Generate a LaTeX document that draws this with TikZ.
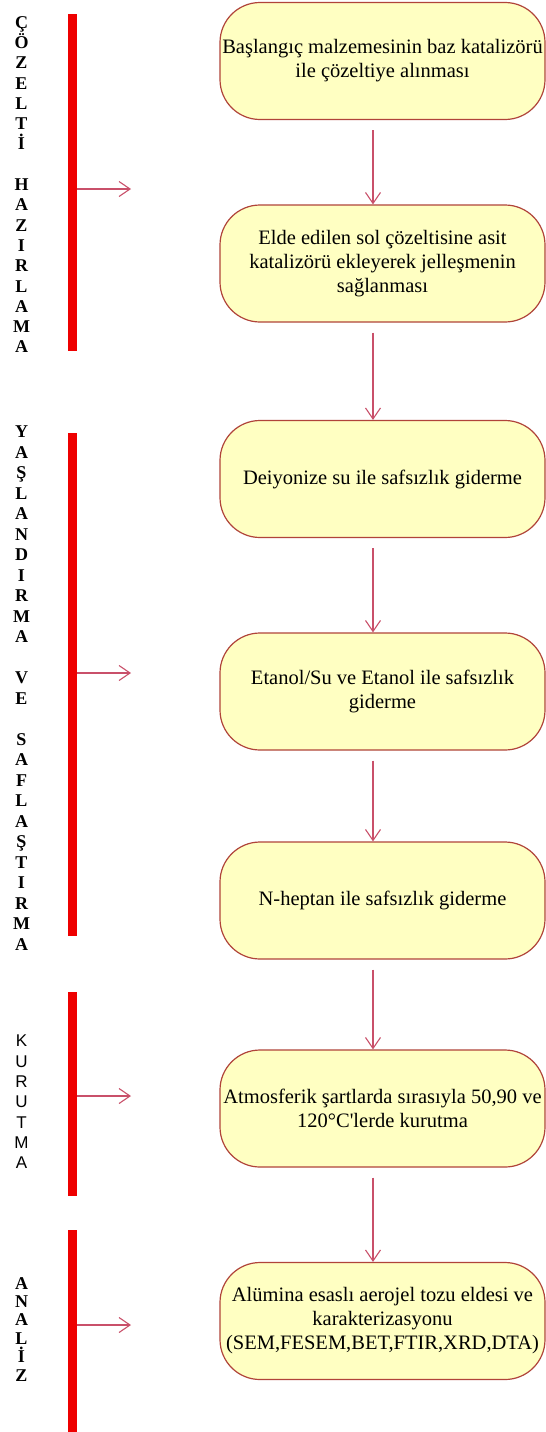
\documentclass[tikz,border=0pt]{standalone}
\usepackage{fontspec}
\setmainfont{Liberation Serif}
\newfontfamily\sansf{Liberation Sans}
\newfontfamily\plainserif{Liberation Serif}
\usetikzlibrary{arrows.meta}
\definecolor{boxfill}{HTML}{FFFFC2}
\definecolor{boxline}{HTML}{B0443A}
\definecolor{arrowc}{HTML}{C9506A}
\definecolor{barred}{HTML}{EE0000}
\tikzset{
  stepbox/.style={draw=boxline, fill=boxfill, line width=1.2pt, rounded corners=40pt,
    minimum width=325pt, minimum height=117pt, align=center, inner sep=0pt,
    font=\fontsize{20.5}{24}\selectfont},
  flow/.style={draw=arrowc, line width=1.1pt, -{Straight Barb[length=11pt,width=15pt]}},
  barnode/.style={fill=barred, draw=none, minimum width=9pt, inner sep=0pt},
  lettercol/.style={align=center, inner sep=0pt, anchor=north},
}
\begin{document}
\begin{tikzpicture}[x=1pt,y=-1pt]
\useasboundingbox (0,0) rectangle (546,1432);
\fill[white] (0,0) rectangle (546,1432);
% boxes
\node[stepbox] (b1) at (382.5,61) {Başlangıç malzemesinin baz katalizörü\\ile çözeltiye alınması};
\node[stepbox] (b2) at (382.5,263.5) {Elde edilen sol çözeltisine asit\\katalizörü ekleyerek jelleşmenin\\sağlanması};
\node[stepbox] (b3) at (382.5,479) {Deiyonize su ile safsızlık giderme};
\node[stepbox] (b4) at (382.5,691.5) {Etanol/Su ve Etanol ile safsızlık\\giderme};
\node[stepbox] (b5) at (382.5,900.5) {N-heptan ile safsızlık giderme};
\node[stepbox] (b6) at (382.5,1108.5) {Atmosferik şartlarda sırasıyla 50,90 ve\\120°C{\plainserif\char"27}lerde kurutma};
\node[stepbox] (b7) at (382.5,1321) {Alümina esaslı aerojel tozu eldesi ve\\karakterizasyonu\\(SEM,FESEM,BET,FTIR,XRD,DTA)};
% vertical arrows
\foreach \a/\b in {b1/b2,b2/b3,b3/b4,b4/b5,b5/b6,b6/b7}{
  \draw[flow] ([xshift=-9.5pt,yshift=-10pt]\a.south) -- ([xshift=-9.5pt]\b.north);
}
% red bars
\node[barnode, minimum height=337pt] (bar1) at (72.5,182.5) {};
\node[barnode, minimum height=503pt] (bar2) at (72.5,684.5) {};
\node[barnode, minimum height=204pt] (bar3) at (72.5,1094) {};
\node[barnode, minimum height=202pt] (bar4) at (72.5,1331) {};
\coordinate (t1) at (131,189);
\coordinate (t2) at (131,673);
\coordinate (t3) at (131,1096);
\coordinate (t4) at (131,1325);
\draw[flow] (bar1.east |- t1) -- (t1);
\draw[flow] (bar2.east |- t2) -- (t2);
\draw[flow] (bar3.east |- t3) -- (t3);
\draw[flow] (bar4.east |- t4) -- (t4);
% letter columns
\node[lettercol, font=\bfseries\fontsize{18}{20.3}\selectfont] (c1) at (21.5,16)
 {Ç\\Ö\\Z\\E\\L\\T\\İ\\~\\H\\A\\Z\\I\\R\\L\\A\\M\\A};
\node[lettercol, font=\bfseries\fontsize{18}{20.5}\selectfont] (c2) at (21.5,426)
 {Y\\A\\Ş\\L\\A\\N\\D\\I\\R\\M\\A\\~\\V\\E\\~\\S\\A\\F\\L\\A\\Ş\\T\\I\\R\\M\\A};
\node[lettercol, font=\sansf\fontsize{17}{20.3}\selectfont] (c3) at (21.5,1035)
 {K\\U\\R\\U\\T\\M\\A};
\node[lettercol, font=\bfseries\fontsize{18}{18.4}\selectfont] (c4) at (21.5,1277)
 {A\\N\\A\\L\\İ\\Z};
\end{tikzpicture}
\end{document}
